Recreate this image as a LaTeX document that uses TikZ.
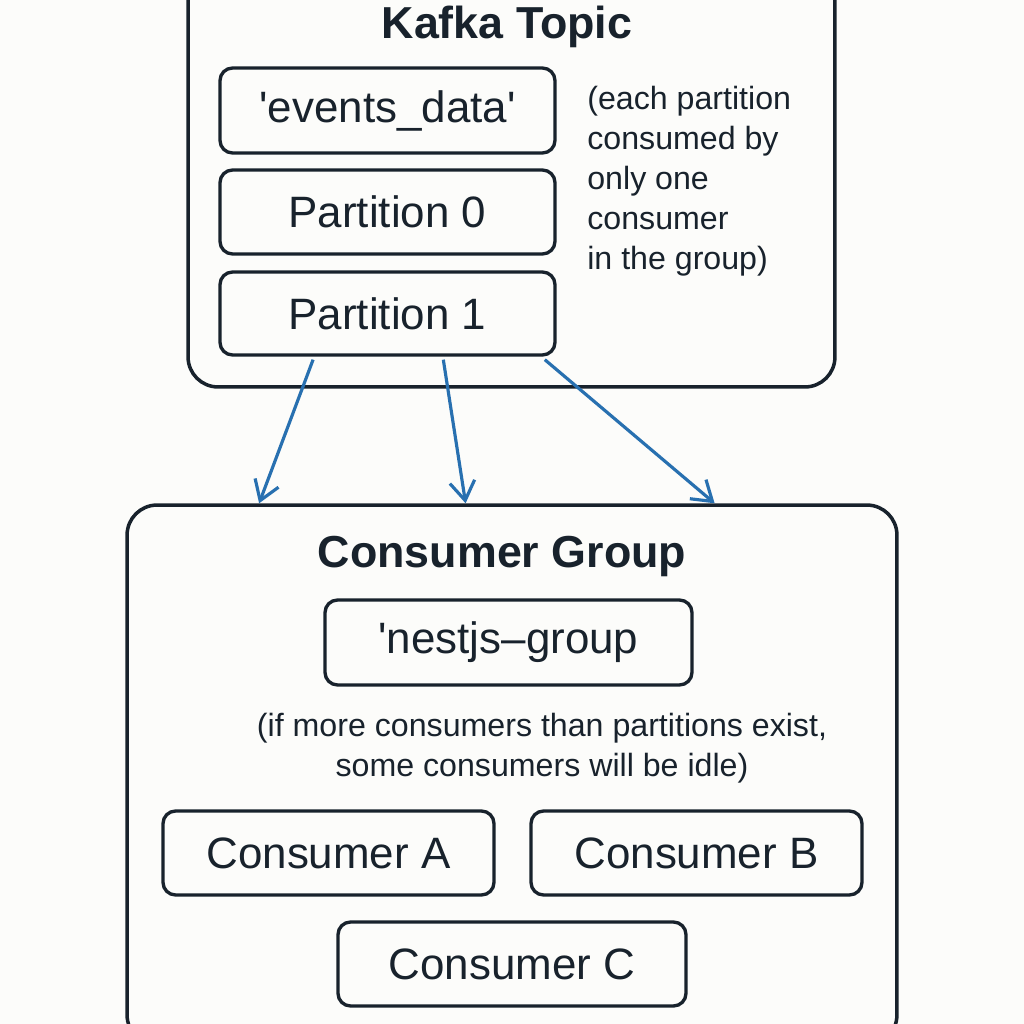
\documentclass[tikz,border=0pt]{standalone}
\usepackage{fontspec}
\setmainfont{Liberation Sans}
\usetikzlibrary{arrows.meta,calc}
\definecolor{ink}{RGB}{24,34,44}
\definecolor{arrowblue}{RGB}{40,112,176}
\definecolor{paper}{RGB}{252,252,250}
\tikzset{>={Straight Barb[length=3.8mm,width=5mm]}}
\tikzstyle{frame}=[rectangle,draw=ink,line width=2pt,rounded corners=0.6cm]
\tikzstyle{item}=[rectangle,draw=ink,line width=1.9pt,rounded corners=0.25cm,text=ink,font=\fontsize{25}{30}\selectfont]
\tikzstyle{heading}=[text=ink,font=\fontsize{25.5}{30}\selectfont\bfseries]
\tikzstyle{note}=[text=ink,font=\fontsize{18.3}{22.8}\selectfont]
\tikzstyle{flow}=[->,draw=arrowblue,line width=1.8pt]

\begin{document}
\begin{tikzpicture}[x=0.02cm,y=-0.02cm,inner sep=0pt]
    \useasboundingbox (0,0) rectangle (1024,1024);
    \fill[paper] (0,0) rectangle (1024,1024);
    \clip (0,0) rectangle (1024,1024);

    % topic side
    \node[frame,minimum width=12.94cm,minimum height=8.54cm] (topic) at (511.5,173.5) {};
    \node[heading] (ttitle) at (507,27) {Kafka Topic};
    \node[item,minimum width=6.7cm,minimum height=1.7cm] (name) at (387.5,110.5) {\textquotesingle events\_data\textquotesingle};
    \node[item,minimum width=6.7cm,minimum height=1.68cm] (p0) at (387.5,212) {Partition 0};
    \node[item,minimum width=6.7cm,minimum height=1.66cm] (p1) at (387.5,313.5) {Partition 1};
    \node[note,align=left,anchor=west] (tnote) at (587,181) {(each partition\\consumed by\\only one\\consumer\\in the group)};

    % group side
    \node[frame,minimum width=15.4cm,minimum height=10.8cm] (grp) at (512,775) {};
    \node[heading] (gtitle) at (502,557) {Consumer Group};
    \node[item,minimum width=7.34cm,minimum height=1.7cm] (gid) at (508.5,642.5) {\textquotesingle nestjs–group};
    \node[note,align=center] (gnote) at (542,748) {(if more consumers than partitions exist,\\some consumers will be idle)};
    \node[item,minimum width=6.62cm,minimum height=1.68cm] (ca) at (328.5,853) {Consumer A};
    \node[item,minimum width=6.62cm,minimum height=1.68cm] (cb) at (696.5,853) {Consumer B};
    \node[item,minimum width=6.96cm,minimum height=1.68cm] (cc) at (512,964) {Consumer C};

    \foreach \s/\e in {0.28/0.173,0.665/0.44,0.965/0.762} {
        \draw[flow] ($(p1.south west)!\s!(p1.south east)+(0,3)$) -- ($(grp.north west)!\e!(grp.north east)$);
    };
\end{tikzpicture}
\end{document}
